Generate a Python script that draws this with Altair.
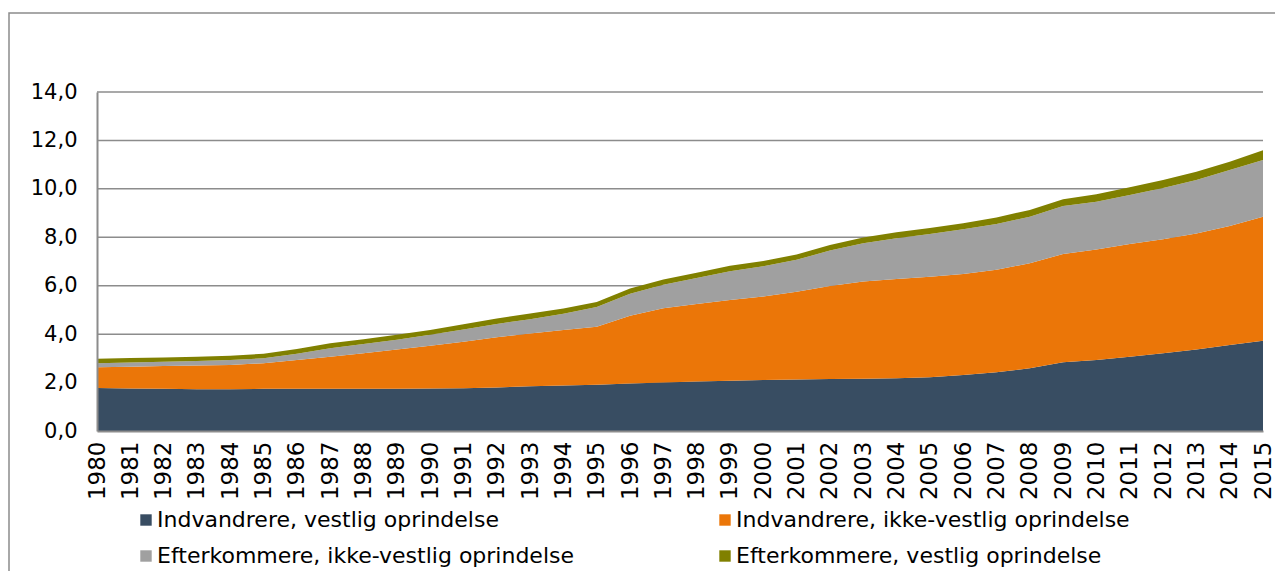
import altair as alt
import pandas as pd

years = list(range(1980, 2016))
series_names = [
    "Indvandrere, vestlig oprindelse",
    "Indvandrere, ikke-vestlig oprindelse",
    "Efterkommere, ikke-vestlig oprindelse",
    "Efterkommere, vestlig oprindelse",
]
colors = ["#384d62", "#eb7608", "#a0a0a0", "#808000"]

indv_vestlig = [1.78, 1.76, 1.74, 1.72, 1.72, 1.74, 1.75, 1.75, 1.75, 1.75,
                1.76, 1.77, 1.80, 1.85, 1.88, 1.91, 1.96, 2.00, 2.04, 2.08,
                2.11, 2.13, 2.15, 2.16, 2.18, 2.22, 2.31, 2.43, 2.59, 2.84,
                2.93, 3.07, 3.21, 3.37, 3.55, 3.73]
indv_ikke_vestlig = [0.85, 0.89, 0.94, 0.98, 1.01, 1.06, 1.18, 1.32, 1.46, 1.62,
                     1.76, 1.92, 2.07, 2.18, 2.29, 2.40, 2.80, 3.07, 3.21, 3.33,
                     3.44, 3.62, 3.84, 4.01, 4.10, 4.15, 4.17, 4.23, 4.34, 4.47,
                     4.57, 4.65, 4.71, 4.79, 4.92, 5.12]
efterk_ikke_vestlig = [0.17, 0.18, 0.18, 0.19, 0.20, 0.20, 0.26, 0.35, 0.38, 0.40,
                       0.45, 0.50, 0.55, 0.59, 0.67, 0.81, 0.91, 0.97, 1.07, 1.19,
                       1.25, 1.32, 1.46, 1.58, 1.68, 1.77, 1.85, 1.89, 1.92, 1.98,
                       1.97, 2.03, 2.12, 2.21, 2.31, 2.34]
efterk_vestlig = [0.18, 0.18, 0.18, 0.18, 0.18, 0.19, 0.20, 0.20, 0.20, 0.20,
                  0.20, 0.22, 0.23, 0.23, 0.22, 0.21, 0.22, 0.22, 0.22, 0.22,
                  0.22, 0.22, 0.23, 0.24, 0.25, 0.24, 0.25, 0.27, 0.28, 0.28,
                  0.31, 0.32, 0.33, 0.34, 0.34, 0.40]
y_ticks = [0, 2, 4, 6, 8, 10, 12, 14]

series_values = [indv_vestlig, indv_ikke_vestlig, efterk_ikke_vestlig, efterk_vestlig]
rows = []
for i, (name, vals) in enumerate(zip(series_names, series_values)):
    for yr, v in zip(years, vals):
        rows.append({"year": yr, "series": name, "value": v, "ord": i})
df = pd.DataFrame(rows)
grid_df = pd.DataFrame({"v": y_ticks[1:]})

FONT = "DejaVu Sans"
GRAY = "#8c8c8c"

frame = alt.Chart(pd.DataFrame({"a": [0]})).mark_rect(
    fill="white", stroke=GRAY, strokeWidth=1.5
).encode(
    x=alt.value(-88), x2=alt.value(1300), y=alt.value(-79), y2=alt.value(520)
)

grid = alt.Chart(grid_df).mark_rule(color=GRAY, strokeWidth=1.5).encode(
    y=alt.Y("v:Q", scale=alt.Scale(domain=[0, 14], nice=False))
)

area = alt.Chart(df).mark_area(opacity=1, interpolate="linear").encode(
    x=alt.X(
        "year:Q",
        scale=alt.Scale(domain=[1980, 2015], nice=False, zero=False),
        axis=alt.Axis(
            values=years, format="d", labelAngle=270, labelAlign="right",
            labelBaseline="middle", labelPadding=10, ticks=False, grid=False,
            domainColor=GRAY, domainWidth=2, labelFontSize=23, labelColor="black",
            labelFont=FONT, title=None, labelOverlap=False, labelFlush=False,
            zindex=1,
        ),
    ),
    y=alt.Y(
        "value:Q", stack="zero",
        scale=alt.Scale(domain=[0, 14], nice=False),
        axis=alt.Axis(
            values=y_ticks,
            labelExpr="replace(format(datum.value, '.1f'), '.', ',')",
            grid=False, ticks=False, domainColor=GRAY, domainWidth=2,
            labelPadding=20, labelFontSize=21, labelColor="black",
            labelFont=FONT, title=None, zindex=1,
        ),
    ),
    color=alt.Color(
        "series:N",
        scale=alt.Scale(domain=series_names, range=colors),
        legend=alt.Legend(
            orient="none", legendX=38, legendY=417, columns=2,
            direction="horizontal",
            columnPadding=139, rowPadding=14, symbolType="square",
            symbolSize=130, symbolStrokeWidth=0, labelFontSize=22,
            labelFont=FONT, labelColor="black", labelOffset=0, title=None,
            labelLimit=600,
        ),
    ),
    order=alt.Order("ord:Q"),
)

chart = alt.layer(frame, grid, area).properties(
    width=1166, height=339,
    autosize=alt.AutoSizeParams(type="none"),
    padding={"left": 89, "top": 84, "right": 12, "bottom": 140},
).configure_view(stroke=None)

chart.save("out.html", embed_options={"renderer": "svg", "actions": False})
